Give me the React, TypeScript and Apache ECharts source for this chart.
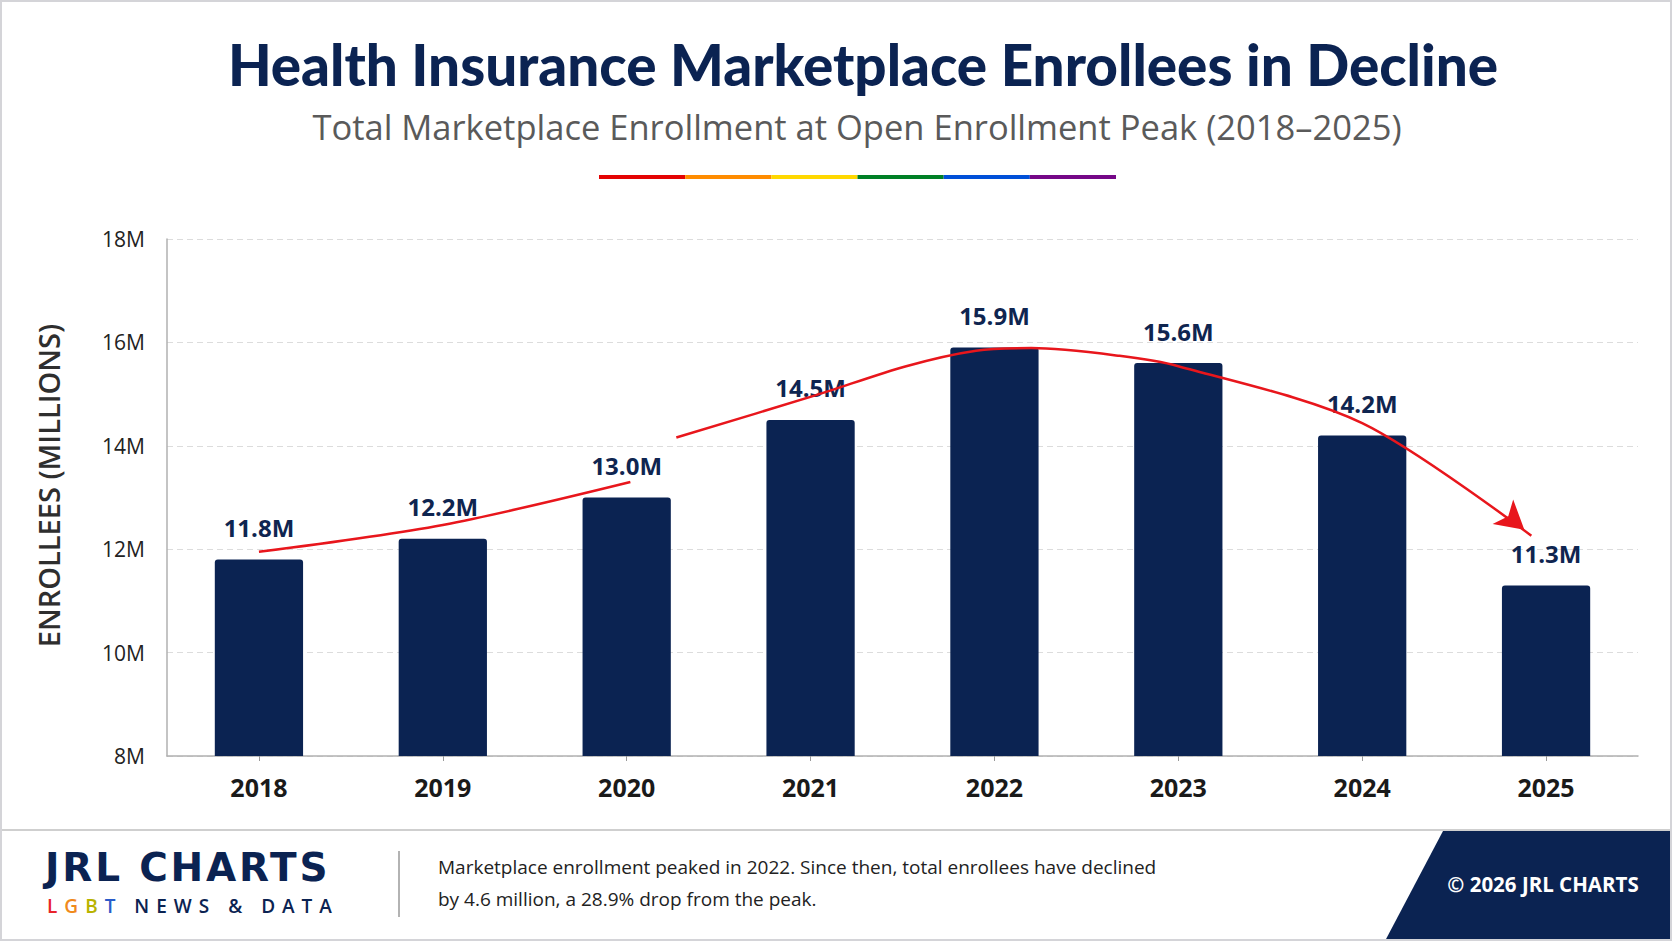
import { useEffect, useRef } from 'react';
import * as echarts from 'echarts';

const years = ['2018', '2019', '2020', '2021', '2022', '2023', '2024', '2025'];
const enrollees = [11.8, 12.2, 13.0, 14.5, 15.9, 15.6, 14.2, 11.3];

// red trend arrow in category units (0 = 2018)
const riseX = [0, 1, 2.02];
const riseY = [11.95, 12.47, 13.3];
const fallX = [2.27, 3.03, 3.52, 3.9, 4.2, 4.68, 5, 6, 6.92];
const fallY = [14.16, 14.98, 15.54, 15.84, 15.89, 15.74, 15.54, 14.44, 12.26];

const pride = ['#e40303', '#ff8c00', '#ffd800', '#008026', '#0050d8', '#750787'];
const taglineLetters = [
  { ch: 'L', color: '#e8242b' },
  { ch: 'G', color: '#f08a1c' },
  { ch: 'B', color: '#b9b300' },
  { ch: 'T', color: '#2a5cc9' },
];

const NAVY = '#0b2352';
const RED = '#e8161c';
const SANS = '"Open Sans", "Noto Sans", sans-serif';
const HEAD = 'Lato, "Open Sans", sans-serif';

export default function App() {
  const chartRef = useRef<HTMLDivElement | null>(null);

  useEffect(() => {
    document.body.style.margin = '0';
    if (!chartRef.current) return;
    const chart = echarts.init(chartRef.current, null, { renderer: 'svg' });

    const pts = (xs: number[], ys: number[]) => xs.map((x, i) => [x, ys[i]]);
    const fall = pts(fallX, fallY).map((p, i, arr) =>
      i === arr.length - 1
        ? { value: p, symbol: 'arrow', symbolSize: [24, 28], symbolRotate: -130, symbolOffset: [-7, -6] }
        : { value: p }
    );

    const segW = (1116 - 599) / pride.length;

    chart.setOption({
      animation: false,
      backgroundColor: '#ffffff',
      grid: { left: 167, right: 34, top: 239, bottom: 185 },
      xAxis: [
        {
          type: 'category',
          data: years,
          axisLine: { lineStyle: { color: '#b0b0b0', width: 1.5 } },
          axisTick: { show: true, alignWithLabel: true, length: 5, lineStyle: { color: '#999' } },
          axisLabel: { color: '#1a1a1a', fontSize: 25, fontWeight: 700, fontFamily: SANS, margin: 18 },
        },
        { type: 'value', min: -0.5, max: 7.5, show: false },
      ],
      yAxis: {
        type: 'value',
        min: 8,
        max: 18,
        interval: 2,
        name: 'ENROLLEES (MILLIONS)',
        nameLocation: 'middle',
        nameRotate: 90,
        nameGap: 104,
        nameTextStyle: {
          color: '#2e2e2e',
          fontSize: 29,
          fontWeight: 600,
          fontFamily: SANS,
          padding: [0, 0, 0, 24],
        },
        axisLine: { show: true, onZero: false, lineStyle: { color: '#b0b0b0', width: 1.5 } },
        axisTick: { show: false },
        axisLabel: { color: '#222', fontSize: 21, fontFamily: SANS, margin: 22, formatter: (v: number) => `${v}M` },
        splitLine: { lineStyle: { color: '#dcdcdc', type: [6, 4] } },
      },
      series: [
        {
          type: 'bar',
          data: enrollees,
          barWidth: '48%',
          itemStyle: { color: NAVY, borderRadius: [3, 3, 0, 0] },
          label: {
            show: true,
            position: 'top',
            distance: 20,
            color: '#0f2550',
            fontSize: 24,
            fontWeight: 700,
            fontFamily: SANS,
            formatter: (p: any) => `${Number(p.value).toFixed(1)}M`,
          },
          z: 2,
        },
        {
          type: 'line',
          xAxisIndex: 1,
          data: pts(riseX, riseY),
          smooth: 0.3,
          symbol: 'none',
          lineStyle: { color: RED, width: 2.5 },
          z: 3,
        },
        {
          type: 'line',
          xAxisIndex: 1,
          data: fall,
          smooth: 0.3,
          symbol: 'none',
          itemStyle: { color: RED },
          lineStyle: { color: RED, width: 2.5 },
          z: 3,
        },
      ],
      graphic: [
        {
          type: 'text',
          x: 863,
          y: 64,
          style: {
            text: 'Health Insurance Marketplace Enrollees in Decline',
            fill: '#0b2352',
            font: `900 56.6px ${HEAD}`,
            align: 'center',
            verticalAlign: 'middle',
          },
        },
        {
          type: 'text',
          x: 857,
          y: 126,
          style: {
            text: 'Total Marketplace Enrollment at Open Enrollment Peak (2018–2025)',
            fill: '#5a5a5a',
            font: `400 34.5px ${SANS}`,
            align: 'center',
            verticalAlign: 'middle',
          },
        },
        ...pride.map((c, i) => ({
          type: 'rect',
          shape: { x: 599 + i * segW, y: 175, width: segW, height: 4 },
          style: { fill: c },
        })),
        {
          type: 'line',
          shape: { x1: 0, y1: 830, x2: 1672, y2: 830 },
          style: { stroke: '#cfcfcf', lineWidth: 2 },
        },
        {
          type: 'line',
          shape: { x1: 399, y1: 851, x2: 399, y2: 917 },
          style: { stroke: '#9a9a9a', lineWidth: 1.5 },
        },
        {
          type: 'text',
          x: 438,
          y: 883,
          style: {
            text:
              'Marketplace enrollment peaked in 2022. Since then, total enrollees have declined\nby 4.6 million, a 28.9% drop from the peak.',
            fill: '#222',
            font: `400 19px ${SANS}`,
            lineHeight: 32,
            verticalAlign: 'middle',
          },
        },
        {
          type: 'polygon',
          shape: { points: [[1443, 831], [1672, 831], [1672, 941], [1385, 941]] },
          style: { fill: NAVY },
        },
        {
          type: 'text',
          x: 1543,
          y: 884,
          style: {
            text: '© 2026 JRL CHARTS',
            fill: '#ffffff',
            font: `700 20.5px ${SANS}`,
            align: 'center',
            verticalAlign: 'middle',
          },
        },
        {
          type: 'rect',
          shape: { x: 1, y: 1, width: 1670, height: 939 },
          style: { fill: 'none', stroke: '#d4d4d8', lineWidth: 2 },
          z: 100,
        },
      ],
    });

    return () => {
      chart.dispose();
    };
  }, []);

  return (
    <div style={{ position: 'relative', width: 1672, height: 941 }}>
      <div ref={chartRef} style={{ position: 'absolute', left: 0, top: 0, width: 1672, height: 941 }} />
      <div
        style={{
          position: 'absolute',
          left: 45,
          top: 846,
          fontFamily: '"DejaVu Sans", sans-serif',
          fontSize: 39,
          fontWeight: 700,
          lineHeight: '44px',
          letterSpacing: '2.8px',
          color: NAVY,
          whiteSpace: 'nowrap',
        }}
      >
        JRL CHARTS
      </div>
      <div
        style={{
          position: 'absolute',
          left: 47,
          top: 896,
          fontFamily: SANS,
          fontSize: 19,
          fontWeight: 600,
          lineHeight: '20px',
          letterSpacing: '7px',
          color: NAVY,
          whiteSpace: 'nowrap',
        }}
      >
        {taglineLetters.map((l) => (
          <span key={l.ch} style={{ color: l.color }}>
            {l.ch}
          </span>
        ))}
        {' NEWS & DATA'}
      </div>
    </div>
  );
}
